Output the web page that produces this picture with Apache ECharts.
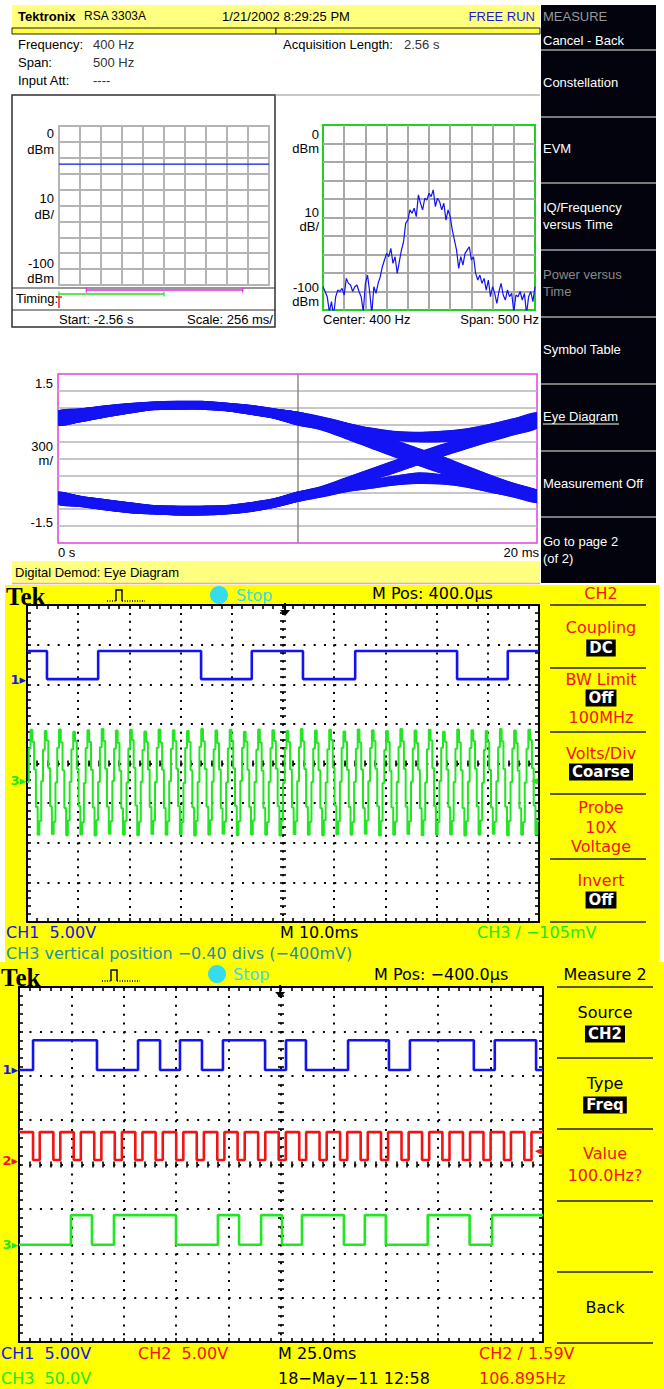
<!DOCTYPE html>
<html><head><meta charset="utf-8"><title>RSA 3303A eye diagram and TDS captures</title>
<script src="https://cdn.jsdelivr.net/npm/echarts@6.0.0/dist/echarts.min.js"></script>
<style>html,body{margin:0;padding:0;background:#fff;overflow:hidden}#chart{width:664px;height:1389px}</style>
</head><body><div id="chart"></div>
<script>
// ====================== DATA ======================
// Overview (power vs time) panel, dBm per division
const overviewDivs = [0,1,2,3,4,5,6,7,8,9,10];
const overviewDbm  = [-24,-24,-24,-24,-24,-24,-24,-24,-24,-24,-24];
const timingGreenDivs   = [0, 5];
const timingMagentaDivs = [1.3, 8.75];
const timingTriggerDiv  = 0;
const overviewYLabels = [['0','dBm'],['10','dB/'],['-100','dBm']];

// Spectrum panel (150..650 Hz, 5 Hz steps)
const specStartHz = 150, specStepHz = 5;
const specDbm = [
 -87.4,-90,-92.8,-101,-95.5,-103,-92.8,-89.2,-90,-88.3,-91.9,-82.9,-85.6,-86.5,-90,-87.4,-86.5,-90,-92.8,-101,-85.6,-81.1,-90,-102,-87.4,-91,-85.6,-82,
 -76.6,-73,-69.4,-71.2,-66.7,-74.8,-71.2,-80.2,-73.9,-67.6,-63.1,-53.2,-51.4,-45.9,-47.7,
 -45,-49.5,-37.8,-42.3,-45.9,-39.6,-40.5,-36.9,-38.7,-35.1,-44.1,-39.6,-41.4,-45.9,-42.3,-51.4,-45.9,
 -49.5,-56.8,-62.2,-67.6,-77.5,-71.2,-75.7,-69.4,-67.6,-65.8,-73,-71.2,-80.2,-83.8,-81.1,
 -85.6,-82.9,-89.2,-83.8,-92.8,-87.4,-91,-96.4,-90,-85.6,-91.9,-94.6,-89.2,-92.8,-91,-101,-91.9,-92.8,-90,-94.6,-91,-102,-92.8,-90,-95.5,-87.4
];
const specYLabels = [['0','dBm'],['10','dB/'],['-100','dBm']];

// Eye diagram: time (ms) and band edges (V)
const eyeMs = [0,1,2,3,4,5,6,7,8,9,10,11,12,13,14,15,16,17,18,19,20];
const eyeHiFallTop = [0.84,0.88,0.93,0.97,1.0,1.01,1.01,0.98,0.94,0.88,0.82, 0.735,0.63,0.48,0.33,0.18,0.04,-0.13,-0.29,-0.44,-0.57];
const eyeHiFallBot = [0.59,0.66,0.74,0.81,0.87,0.88,0.88,0.85,0.79,0.72,0.60, 0.51,0.36,0.20,0.04,-0.11,-0.26,-0.41,-0.53,-0.65,-0.76];
const eyeHiHoldTop = [0.84,0.88,0.93,0.97,1.0,1.01,1.01,0.98,0.94,0.88,0.82, 0.72,0.63,0.54,0.48,0.46,0.48,0.52,0.60,0.70,0.81];
const eyeHiHoldBot = [0.59,0.66,0.74,0.81,0.87,0.88,0.88,0.85,0.79,0.72,0.60, 0.54,0.44,0.38,0.33,0.30,0.30,0.33,0.38,0.46,0.57];
const eyeLoHoldTop = [-0.60,-0.68,-0.735,-0.79,-0.84,-0.85,-0.85,-0.84,-0.79,-0.72,-0.60, -0.53,-0.45,-0.39,-0.32,-0.26,-0.29,-0.35,-0.41,-0.50,-0.56];
const eyeLoHoldBot = [-0.81,-0.85,-0.91,-0.96,-0.98,-1.0,-1.0,-0.98,-0.94,-0.865,-0.76, -0.68,-0.59,-0.53,-0.47,-0.44,-0.45,-0.50,-0.59,-0.68,-0.78];
const eyeLoRiseTop = [-0.60,-0.68,-0.735,-0.79,-0.84,-0.85,-0.85,-0.84,-0.79,-0.72,-0.60, -0.50,-0.35,-0.20,-0.05,0.095,0.24,0.36,0.51,0.63,0.78];
const eyeLoRiseBot = [-0.81,-0.85,-0.91,-0.96,-0.98,-1.0,-1.0,-0.98,-0.94,-0.865,-0.76, -0.65,-0.53,-0.39,-0.26,-0.11,0.036,0.17,0.30,0.42,0.54];
const eyeYLabels = ['1.5', ['300','m/'], '-1.5'];
const eyeXLabels = ['0 s', '20 ms'];

// Scope 1 (10 ms/div, divisions), times relative to screen centre (ms)
const s1Ch1Edges = [-46.1,-36.1,-16.0,-6.1,3.9,14.1,34.0,43.9];
const s1Ch1Levels = {lo: 2.13, hi: 2.84, startHigh: true};
// CH3 stepped 400 Hz waveform, 8 held samples per cycle (divisions)
const s1Ch3Samples = [
 -0.47,0.38,0.85,0.55,-0.15,-1.10,-1.80,-1.45,  -0.45,0.35,0.82,0.58,-0.12,-1.08,-1.78,-1.47,
 -0.48,0.40,0.86,0.53,-0.17,-1.12,-1.81,-1.44,  -0.46,0.36,0.80,0.56,-0.14,-1.07,-1.79,-1.48,
 -0.49,0.39,0.84,0.54,-0.16,-1.11,-1.82,-1.43,  -0.47,0.41,0.87,0.57,-0.13,-1.09,-1.77,-1.46,
 -0.44,0.37,0.83,0.52,-0.18,-1.13,-1.80,-1.45,  -0.48,0.38,0.85,0.59,-0.11,-1.06,-1.81,-1.47,
 -0.46,0.34,0.81,0.55,-0.15,-1.10,-1.78,-1.44,  -0.47,0.40,0.86,0.53,-0.16,-1.12,-1.80,-1.46,
 -0.45,0.37,0.84,0.57,-0.13,-1.08,-1.79,-1.48,  -0.49,0.39,0.82,0.54,-0.17,-1.11,-1.82,-1.45,
 -0.47,0.42,0.87,0.56,-0.14,-1.09,-1.80,-1.43,  -0.46,0.36,0.83,0.52,-0.15,-1.13,-1.77,-1.47,
 -0.48,0.38,0.85,0.58,-0.12,-1.07,-1.81,-1.46,  -0.44,0.40,0.80,0.55,-0.16,-1.10,-1.79,-1.44,
 -0.47,0.35,0.86,0.53,-0.18,-1.12,-1.80,-1.48,  -0.46,0.39,0.84,0.57,-0.13,-1.08,-1.82,-1.45,
 -0.49,0.37,0.82,0.54,-0.15,-1.11,-1.78,-1.46,  -0.45,0.41,0.87,0.56,-0.14,-1.09,-1.80,-1.47,
 -0.47,0.38,0.83,0.52,-0.17,-1.13,-1.81,-1.43,  -0.48,0.36,0.85,0.59,-0.11,-1.06,-1.79,-1.46,
 -0.46,0.40,0.81,0.55,-0.16,-1.10,-1.80,-1.48,  -0.47,0.37,0.86,0.53,-0.15,-1.12,-1.77,-1.44,
 -0.45,0.39,0.84,0.57,-0.13,-1.08,-1.82,-1.45,  -0.49,0.34,0.82,0.54,-0.18,-1.11,-1.80,-1.47,
 -0.47,0.42,0.87,0.56,-0.14,-1.09,-1.78,-1.46,  -0.46,0.38,0.83,0.52,-0.16,-1.13,-1.81,-1.43,
 -0.48,0.36,0.85,0.58,-0.12,-1.07,-1.80,-1.48,  -0.44,0.40,0.80,0.55,-0.15,-1.10,-1.79,-1.45,
 -0.47,0.37,0.86,0.53,-0.17,-1.12,-1.82,-1.46,  -0.46,0.39,0.84,0.57,-0.13,-1.08,-1.80,-1.44,
 -0.49,0.35,0.82,0.54,-0.16,-1.11,-1.77,-1.47,  -0.45,0.41,0.87,0.56,-0.14,-1.09,-1.81,-1.45,
 -0.47,0.38,0.83,0.52,-0.18,-1.13,-1.80,-1.48,  -0.48,0.37,0.85,0.59,-0.12,-1.06,-1.79,-1.46
];
const s1Ch3Ground = -0.42, s1TrigLevel = -0.42, s1TrigMs = 0.4;

// Scope 2 (25 ms/div)
const s2Ch1Edges = [-118.3,-87.8,-68.2,-57.7,-48.2,-37.7,-27.7,-7.6,2.4,11.9,32.0,51.5,61.5,92.0,102.0,121.7];
const s2Ch1Levels = {lo: 2.13, hi: 2.80, startHigh: false};
const s2Ch2Edges = [-118.3,-115.1,-108.6,-105.3,-98.9,-95.5,-89.1,-85.7,-79.3,-75.9,-69.5,-66.1,-59.8,-56.4,-50.0,-46.6,-40.2,-36.8,-30.4,-27.0,
 -20.7,-17.3,-10.9,-7.5,-1.1,2.3,8.7,12.0,18.4,21.8,28.2,31.6,38.0,41.4,47.7,51.1,57.5,60.9,67.3,70.7,77.0,80.4,86.8,90.2,96.6,100.0,106.4,109.7,116.1,119.5];
const s2Ch2Levels = {lo: 0.10, hi: 0.73, startHigh: true};
const s2Ch3Edges = [-100.2,-90.2,-79.7,-50.1,-30.1,-20.0,-9.5,0.5,10.0,30.0,40.0,50.0,70.0,90.0,100.7];
const s2Ch3Levels = {lo: -1.81, hi: -1.14, startHigh: false};
const s2TrigLevel = 0.33, s2TrigMs = -0.4;

// ====================== HELPERS ======================
const FA = '"Liberation Sans", Arial, sans-serif';
const FS = '"DejaVu Sans", sans-serif';
const FSERIF = '"Liberation Serif", "DejaVu Serif", serif';
const BLUE = '#1212f2', GREEN = '#22e622', RED = '#f01414', CYAN = '#34dcee';
const TEAL = '#1f8fa6';

function stepPoints(xMin, xMax, edges, lv) {
  let cur = lv.startHigh ? lv.hi : lv.lo;
  const pts = [[xMin, cur]];
  edges.forEach(t => { cur = (cur === lv.hi) ? lv.lo : lv.hi; pts.push([t, cur]); });
  pts.push([xMax, cur]);
  return pts;
}
function T(x, y, text, o) {
  o = o || {};
  const st = { text, fill: o.color || '#000', font: o.font || ('13px ' + FA), align: o.align || 'left', verticalAlign: 'middle' };
  if (o.bg) { st.backgroundColor = o.bg; st.padding = o.pad || [1, 3]; }
  return { type: 'text', x, y, z: 60, silent: true, style: st };
}
function R(x, y, w, h, fill, stroke, lw, z) {
  return { type: 'rect', z: (z == null ? -20 : z), silent: true, shape: { x, y, width: w, height: h }, style: { fill: fill || 'none', stroke: stroke || 'none', lineWidth: lw || 0 } };
}
function L(x1, y1, x2, y2, c, w, z) {
  return { type: 'line', z: (z == null ? 50 : z), silent: true, shape: { x1, y1, x2, y2 }, style: { stroke: c, lineWidth: w || 1 } };
}
function P(points, c, w, z, dash) {
  return { type: 'polyline', z: (z == null ? 60 : z), silent: true, shape: { points }, style: { stroke: c, lineWidth: w || 1, fill: 'none', lineDash: dash || null } };
}

function plainAxis(grid, min, max, interval, color, width) {
  return { type: 'value', gridIndex: grid, min, max, interval,
    axisLine: { show: false, onZero: false }, axisTick: { show: false }, axisLabel: { show: false }, minorTick: { show: false },
    splitLine: { show: true, showMinLine: false, showMaxLine: false, lineStyle: { color, width } } };
}
// scope axes: kind = 'border' or 'center'
function scopeAxis(grid, min, max, position, kind, zeroIdx, dash) {
  const c = kind === 'center';
  const tickLen = c ? 3 : 4;
  return {
    type: 'value', gridIndex: grid, min, max, interval: (max - min) / (position === 'left' || position === 'right' ? 8 : 10), position,
    axisLine: c ? { show: false, onZero: true, onZeroAxisIndex: zeroIdx } : { show: true, onZero: false, lineStyle: { color: '#000', width: 2 } },
    axisTick: { show: true, inside: true, length: tickLen, lineStyle: { color: '#000', width: 1.6 } },
    minorTick: { show: true, splitNumber: 5, length: tickLen, lineStyle: { color: '#000', width: 1.6 } },
    axisLabel: { show: false },
    splitLine: { show: !!dash, lineStyle: { color: '#000', width: 2, type: dash || 'solid' } }
  };
}

// grids (pixel boxes)
const grids = [
  { left: 59, top: 126, width: 210, height: 159, show: true, backgroundColor: '#fff', borderColor: '#b4b4b4', borderWidth: 2 },
  { left: 323, top: 125, width: 212, height: 185, show: true, backgroundColor: '#fff', borderColor: '#22d022', borderWidth: 2 },
  { left: 58, top: 374, width: 479, height: 169, show: true, backgroundColor: '#fff', borderColor: '#e040e0', borderWidth: 1.5 },
  { left: 27, top: 605, width: 512, height: 317, show: true, backgroundColor: '#fff', borderWidth: 0 },
  { left: 19, top: 987, width: 524, height: 355, show: true, backgroundColor: '#fff', borderWidth: 0 }
].map(g => Object.assign({ containLabel: false, outerBoundsMode: 'none', z: 0 }, g));

const xAxes = [
  plainAxis(0, 0, 10, 1, '#b4b4b4', 2),
  plainAxis(1, specStartHz, specStartHz + specStepHz * (specDbm.length - 1), 50, '#a8a8a8', 2),
  plainAxis(2, 0, 20, 10, '#8c8c8c', 1.5),
  scopeAxis(3, -50, 50, 'bottom', 'border', null, [2, 5.92]),
  scopeAxis(3, -50, 50, 'top', 'border', null, null),
  scopeAxis(3, -50, 50, 'bottom', 'center', 3, null),
  scopeAxis(3, -50, 50, 'top', 'center', 3, null),
  scopeAxis(4, -125, 125, 'bottom', 'border', null, [2, 6.88]),
  scopeAxis(4, -125, 125, 'top', 'border', null, null),
  scopeAxis(4, -125, 125, 'bottom', 'center', 7, null),
  scopeAxis(4, -125, 125, 'top', 'center', 7, null)
];
const yAxes = [
  plainAxis(0, -100, 0, 10, '#b4b4b4', 2),
  plainAxis(1, -100, 0, 10, '#a8a8a8', 2),
  plainAxis(2, -1.5, 1.5, 0.3, '#b4b4b4', 1.5),
  scopeAxis(3, -4, 4, 'left', 'border', null, [2, 8.24]),
  scopeAxis(3, -4, 4, 'right', 'border', null, null),
  scopeAxis(3, -4, 4, 'left', 'center', 3, null),
  scopeAxis(3, -4, 4, 'right', 'center', 3, null),
  scopeAxis(4, -4, 4, 'left', 'border', null, [2, 8.48]),
  scopeAxis(4, -4, 4, 'right', 'border', null, null),
  scopeAxis(4, -4, 4, 'left', 'center', 7, null),
  scopeAxis(4, -4, 4, 'right', 'center', 7, null)
];

// ====================== SERIES ======================
const series = [];
series.push({ type: 'line', xAxisIndex: 0, yAxisIndex: 0, symbol: 'none', silent: true, z: 5,
  data: overviewDivs.map((d, i) => [d, overviewDbm[i]]), lineStyle: { color: BLUE, width: 1.2 } });
series.push({ type: 'line', xAxisIndex: 1, yAxisIndex: 1, symbol: 'none', silent: true, z: 5, clip: true,
  data: specDbm.map((v, i) => [specStartHz + i * specStepHz, v]), lineStyle: { color: BLUE, width: 1.2 } });

// eye-diagram bands: filled polygons between the top and bottom edge of each trace family
const eyeBands = [[eyeHiFallTop, eyeHiFallBot], [eyeHiHoldTop, eyeHiHoldBot], [eyeLoHoldTop, eyeLoHoldBot], [eyeLoRiseTop, eyeLoRiseBot]];
series.push({ type: 'custom', xAxisIndex: 2, yAxisIndex: 2, silent: true, z: 5, clip: true,
  data: eyeBands.map((b, i) => [eyeMs[0], b[0][0], i]), encode: { x: 0, y: 1 },
  renderItem: function (params, api) {
    const band = eyeBands[api.value(2)];
    const top = band[0].map((v, i) => api.coord([eyeMs[i], v]));
    const bot = band[1].map((v, i) => api.coord([eyeMs[i], v]));
    return { type: 'group', children: [
      { type: 'polygon', shape: { points: top.concat(bot.slice().reverse()), smooth: 0.25 }, style: { fill: BLUE, stroke: BLUE, lineWidth: 1 } },
      { type: 'polyline', shape: { points: top, smooth: 0.3 }, style: { stroke: BLUE, lineWidth: 1.5, fill: 'none' } },
      { type: 'polyline', shape: { points: bot, smooth: 0.3 }, style: { stroke: BLUE, lineWidth: 1.5, fill: 'none' } }
    ] };
  } });

function scopeLine(xi, yi, data, color, w) {
  series.push({ type: 'line', xAxisIndex: xi, yAxisIndex: yi, step: 'end', symbol: 'none', silent: true, z: 6, clip: true,
    data, lineStyle: { color, width: w } });
}
const s1Dt = 100 / s1Ch3Samples.length;
const s1Ch3Data = s1Ch3Samples.map((v, i) => [-50 + i * s1Dt, v]);
s1Ch3Data.push([50, s1Ch3Samples[s1Ch3Samples.length - 1]]);
scopeLine(3, 3, s1Ch3Data, GREEN, 2);
scopeLine(3, 3, stepPoints(-50, 50, s1Ch1Edges, s1Ch1Levels), BLUE, 2.6);
scopeLine(7, 7, stepPoints(-125, 125, s2Ch3Edges, s2Ch3Levels), GREEN, 2.6);
scopeLine(7, 7, stepPoints(-125, 125, s2Ch2Edges, s2Ch2Levels), RED, 2.6);
scopeLine(7, 7, stepPoints(-125, 125, s2Ch1Edges, s2Ch1Levels), BLUE, 2.6);

const chart = echarts.init(document.getElementById('chart'), null, { renderer: 'svg', width: 664, height: 1389 });
chart.setOption({ animation: false, backgroundColor: '#fff', grid: grids, xAxis: xAxes, yAxis: yAxes, series });

// ====================== DECORATION / TEXT ======================
const g = [];
// --- Section A: RSA analyzer ---
g.push(R(12, 5, 528, 23, '#ffff80'));
g.push(R(12, 28, 264, 6, '#ffff40', '#222', 1, -19), R(276, 28, 264, 6, '#ffff40', '#222', 1, -19));
g.push(T(18, 16, 'Tektronix', { font: 'bold 13px ' + FA }), T(84, 16, 'RSA 3303A', { font: '12px ' + FA }));
g.push(T(222, 16, '1/21/2002 8:29:25 PM'), T(535, 16, 'FREE RUN', { color: '#1a1ae0', align: 'right' }));
g.push(T(18, 44, 'Frequency:'), T(93, 44, '400 Hz', { color: '#333' }));
g.push(T(18, 62, 'Span:'), T(93, 62, '500 Hz', { color: '#333' }));
g.push(T(18, 80, 'Input Att:'), T(93, 80, '----', { color: '#333' }));
g.push(T(283, 44, 'Acquisition Length:'), T(404, 44, '2.56 s', { color: '#333' }));
g.push(L(275, 95, 540, 95, '#909090', 1));
g.push(R(12, 95, 263, 232, 'none', '#303030', 1.5, 40));
g.push(L(12, 288, 275, 288, '#303030', 1.2), L(12, 310, 275, 310, '#303030', 1.2));
[[133, 149], [198, 214], [263, 278]].forEach((yy, i) => {
  g.push(T(54, yy[0], overviewYLabels[i][0], { align: 'right' }), T(54, yy[1], overviewYLabels[i][1], { align: 'right' }));
});
g.push(T(16, 298, 'Timing:'), T(59, 319, 'Start: -2.56 s'), T(273, 319, 'Scale: 256 ms/', { align: 'right' }));
[[134, 148], [212, 226], [287, 301]].forEach((yy, i) => {
  g.push(T(319, yy[0], specYLabels[i][0], { align: 'right' }), T(319, yy[1], specYLabels[i][1], { align: 'right' }));
});
g.push(T(323, 319, 'Center: 400 Hz'), T(539, 319, 'Span: 500 Hz', { align: 'right' }));
g.push(T(53, 383, eyeYLabels[0], { align: 'right' }), T(53, 446, eyeYLabels[1][0], { align: 'right' }),
  T(53, 460, eyeYLabels[1][1], { align: 'right' }), T(53, 522, eyeYLabels[2], { align: 'right' }));
g.push(T(58, 552, eyeXLabels[0]), T(539, 552, eyeXLabels[1], { align: 'right' }));
g.push(R(12, 561, 528, 22, '#ffff80'), L(12, 583.5, 540, 583.5, '#f0a0c8', 1.5));
g.push(T(15, 572, 'Digital Demod: Eye Diagram'));
g.push(R(541, 5, 115, 578, '#02030c'));
g.push(T(543, 16, 'MEASURE', { color: '#9a9a9a' }), T(543, 40, 'Cancel - Back', { color: '#fff' }));
[50, 117, 183, 250, 317, 384, 451, 517].forEach(y => g.push(L(541, y, 656, y, '#7a7a7a', 2)));
g.push(T(543, 82, 'Constellation', { color: '#fff' }), T(543, 148, 'EVM', { color: '#fff' }));
g.push(T(543, 207, 'IQ/Frequency', { color: '#fff' }), T(543, 224, 'versus Time', { color: '#fff' }));
g.push(T(543, 274, 'Power versus', { color: '#8a8a8a' }), T(543, 291, 'Time', { color: '#8a8a8a' }));
g.push(T(543, 349, 'Symbol Table', { color: '#fff' }), T(543, 416, 'Eye Diagram', { color: '#fff' }), L(543, 424, 619, 424, '#fff', 1));
g.push(T(543, 483, 'Measurement Off', { color: '#fff' }));
g.push(T(543, 541, 'Go to page 2', { color: '#fff' }), T(543, 558, '(of 2)', { color: '#fff' }));

// --- Section B: scope 1 ---
const S = '16px ' + FS, SB = 'bold 15px ' + FS;
g.push(R(5, 585, 654, 377, '#ffff00'));
g.push(T(6, 596, 'Tek', { font: 'bold 25px ' + FSERIF }));
g.push(P([[107, 601], [116, 601]], '#000', 1.3, 60, [1, 1.5]), P([[116, 601], [116, 590], [122, 590], [122, 601]], '#000', 1.4),
  P([[122, 601], [145, 601]], '#000', 1.3, 60, [1, 1.5]));
g.push({ type: 'circle', z: 60, silent: true, shape: { cx: 219, cy: 595, r: 9 }, style: { fill: CYAN } });
g.push(T(236, 595, 'Stop', { color: CYAN, font: S }));
g.push(T(372, 593, 'M Pos: 400.0\u00b5s', { font: S }));
g.push(T(601, 593, 'CH2', { color: RED, font: S, align: 'center' }));
[605, 668, 732, 794, 859, 922].forEach(y => g.push(L(550, y, 646, y, '#222', 1.5)));
g.push(T(601, 627, 'Coupling', { color: RED, font: S, align: 'center' }), T(601, 648, 'DC', { color: '#fff', font: SB, align: 'center', bg: '#000' }));
g.push(T(601, 679, 'BW Limit', { color: RED, font: S, align: 'center' }), T(601, 698, 'Off', { color: '#fff', font: SB, align: 'center', bg: '#000' }));
g.push(T(601, 717, '100MHz', { color: RED, font: S, align: 'center' }));
g.push(T(601, 753, 'Volts/Div', { color: RED, font: S, align: 'center' }), T(601, 772, 'Coarse', { color: '#fff', font: SB, align: 'center', bg: '#000' }));
g.push(T(601, 807, 'Probe', { color: RED, font: S, align: 'center' }), T(601, 827, '10X', { color: RED, font: S, align: 'center' }), T(601, 846, 'Voltage', { color: RED, font: S, align: 'center' }));
g.push(T(601, 880, 'Invert', { color: RED, font: S, align: 'center' }), T(601, 900, 'Off', { color: '#fff', font: SB, align: 'center', bg: '#000' }));
g.push(T(6, 932, 'CH1  5.00V', { color: BLUE, font: S }), T(280, 932, 'M 10.0ms', { font: S }), T(477, 932, 'CH3 / \u2212105mV', { color: GREEN, font: S }));
g.push(T(6, 953, 'CH3 vertical position \u22120.40 divs (\u2212400mV)', { color: TEAL, font: S }));

// --- Section C: scope 2 ---
g.push(R(0, 962, 664, 427, '#ffff00'));
g.push(T(1, 977, 'Tek', { font: 'bold 25px ' + FSERIF }));
g.push(P([[102, 981], [111, 981]], '#000', 1.3, 60, [1, 1.5]), P([[111, 981], [111, 970], [117, 970], [117, 981]], '#000', 1.4),
  P([[117, 981], [140, 981]], '#000', 1.3, 60, [1, 1.5]));
g.push({ type: 'circle', z: 60, silent: true, shape: { cx: 217, cy: 974, r: 9 }, style: { fill: CYAN } });
g.push(T(233, 974, 'Stop', { color: CYAN, font: S }));
g.push(T(374, 974, 'M Pos: \u2212400.0\u00b5s', { font: S }));
g.push(T(605, 974, 'Measure 2', { font: S, align: 'center' }));
[987, 1058, 1129, 1201, 1272, 1343].forEach(y => g.push(L(557, y, 653, y, '#222', 1.5)));
g.push(T(605, 1012, 'Source', { font: S, align: 'center' }), T(605, 1034, 'CH2', { color: '#fff', font: SB, align: 'center', bg: '#000' }));
g.push(T(605, 1083, 'Type', { font: S, align: 'center' }), T(605, 1105, 'Freq', { color: '#fff', font: SB, align: 'center', bg: '#000' }));
g.push(T(605, 1153, 'Value', { color: RED, font: S, align: 'center' }), T(605, 1175, '100.0Hz?', { color: RED, font: S, align: 'center' }));
g.push(T(605, 1307, 'Back', { font: S, align: 'center' }));
g.push(T(1, 1353, 'CH1  5.00V', { color: BLUE, font: S }), T(138, 1353, 'CH2  5.00V', { color: RED, font: S }),
  T(278, 1353, 'M 25.0ms', { font: S }), T(479, 1353, 'CH2 / 1.59V', { color: RED, font: S }));
g.push(T(1, 1378, 'CH3  50.0V', { color: GREEN, font: S }), T(278, 1378, '18\u2212May\u221211 12:58', { font: S }),
  T(479, 1378, '106.895Hz', { color: RED, font: S }));

// --- markers positioned through the axes ---
const px = (xi, yi, v) => chart.convertToPixel({ xAxisIndex: xi, yAxisIndex: yi }, v);
const tG0 = px(0, 0, [timingGreenDivs[0], 0])[0], tG1 = px(0, 0, [timingGreenDivs[1], 0])[0];
const tM0 = px(0, 0, [timingMagentaDivs[0], 0])[0], tM1 = px(0, 0, [timingMagentaDivs[1], 0])[0];
const tT = px(0, 0, [timingTriggerDiv, 0])[0];
g.push(L(tM0, 290, tM1, 290, '#f020f0', 1.5), L(tM0, 287.5, tM0, 292.5, '#f020f0', 1.2), L(tM1, 287.5, tM1, 292.5, '#f020f0', 1.2));
g.push(L(tG0, 294, tG1, 294, '#20e020', 1.5), L(tG0, 291.5, tG0, 296.5, '#20e020', 1.2), L(tG1, 291.5, tG1, 296.5, '#20e020', 1.2));
g.push(L(tT - 3, 297, tT + 3, 297, '#f02020', 1.5), L(tT, 297, tT, 308, '#f02020', 1.5));
function chMark(xi, yi, xmin, level, label, color) {
  const p = px(xi, yi, [xmin, level]);
  g.push(T(p[0] - 1, p[1], label + '\u25b8', { color, font: 'bold 13px ' + FS, align: 'right' }));
}
chMark(3, 3, -50, s1Ch1Levels.lo, '1', BLUE);
chMark(3, 3, -50, s1Ch3Ground, '3', GREEN);
chMark(7, 7, -125, s2Ch1Levels.lo, '1', BLUE);
chMark(7, 7, -125, s2Ch2Levels.lo, '2', RED);
chMark(7, 7, -125, s2Ch3Levels.lo, '3', GREEN);
const p1 = px(3, 3, [50, s1TrigLevel]);
g.push(T(p1[0] - 1, p1[1], '\u25c2', { color: GREEN, font: 'bold 14px ' + FS, align: 'right' }));
const p2 = px(7, 7, [125, s2TrigLevel]);
g.push(T(p2[0] - 1, p2[1], '\u25c2', { color: RED, font: 'bold 14px ' + FS, align: 'right' }));
function trigArrow(xi, yi, ms, ymax) {
  const p = px(xi, yi, [ms, ymax]);
  g.push(L(p[0], p[1] - 2, p[0], p[1] + 8, '#000', 2));
  g.push({ type: 'polygon', z: 60, silent: true, shape: { points: [[p[0] - 5, p[1] + 5], [p[0] + 5, p[1] + 5], [p[0], p[1] + 11]] }, style: { fill: '#000' } });
}
trigArrow(3, 3, s1TrigMs, 4);
trigArrow(7, 7, s2TrigMs, 4);

chart.setOption({ graphic: { elements: g } });
</script></body></html>
